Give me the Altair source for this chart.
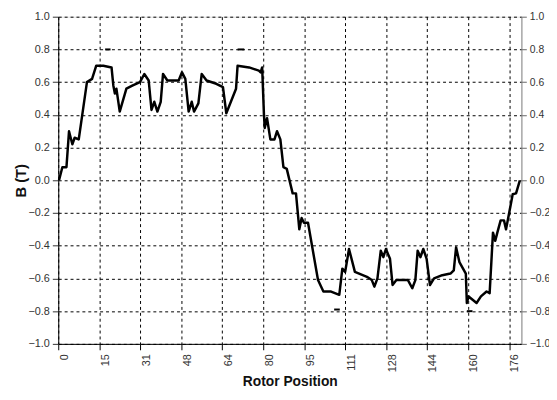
import altair as alt
import pandas as pd

# Waveform samples (x in tick-units, 16 units per labelled division)
pos = [0.3, 1.6, 3.2, 4.2, 5.5, 6.4, 8.0, 11.2, 13.2, 14.8, 17.6, 20.8, 21.5, 22.1, 22.7,
       24.0, 26.6, 29.1, 31.9, 33.6, 35.3, 36.4, 37.5, 38.7, 40.0, 40.9, 42.6, 47.0, 48.3,
       49.6, 50.9, 52.1, 53.0, 54.7, 56.0, 57.9, 61.7, 64.3, 65.6, 69.4, 70.0, 74.5, 78.3,
       79.0, 79.6, 80.3, 80.6, 81.5, 82.8, 84.4, 85.4, 86.7, 87.9, 89.2, 91.5, 92.8, 94.1,
       95.0, 95.9, 97.5, 101.4, 103.5, 106.5, 109.7, 110.9, 112.0, 113.5, 115.8, 120.5,
       122.4, 123.4, 124.6, 125.9, 126.9, 127.9, 129.5, 130.5, 132.0, 136.5, 138.2, 139.4,
       140.3, 141.4, 142.5, 143.8, 145.1, 146.7, 149.9, 153.1, 154.4, 155.3, 156.6, 159.1,
       159.5, 160.2, 163.3, 165.0, 167.2, 168.4, 169.7, 170.6, 171.4, 172.7, 174.0, 174.8,
       177.4, 178.7, 180.2]
bval = [0.00, 0.08, 0.08, 0.30, 0.22, 0.26, 0.25, 0.60, 0.62, 0.70, 0.70, 0.69, 0.58, 0.53,
        0.56, 0.42, 0.56, 0.58, 0.60, 0.65, 0.61, 0.43, 0.48, 0.42, 0.48, 0.65, 0.61, 0.61,
        0.66, 0.62, 0.42, 0.48, 0.42, 0.47, 0.65, 0.61, 0.59, 0.57, 0.41, 0.56, 0.70, 0.69,
        0.67, 0.66, 0.69, 0.40, 0.32, 0.38, 0.25, 0.25, 0.30, 0.25, 0.08, 0.07, -0.08, -0.08,
        -0.30, -0.23, -0.26, -0.26, -0.61, -0.68, -0.68, -0.70, -0.54, -0.56, -0.42, -0.56,
        -0.59, -0.61, -0.65, -0.60, -0.43, -0.47, -0.42, -0.48, -0.64, -0.61, -0.61, -0.66,
        -0.61, -0.43, -0.47, -0.42, -0.48, -0.64, -0.60, -0.58, -0.57, -0.55, -0.41, -0.50,
        -0.57, -0.75, -0.71, -0.75, -0.71, -0.68, -0.69, -0.32, -0.37, -0.32, -0.245, -0.245,
        -0.30, -0.085, -0.08, 0.0]

# Small peak markers
mark_x1 = [18.3, 70.0, 107.7, 159.5]
mark_x2 = [20.4, 72.6, 109.9, 161.7]
mark_y = [0.80, 0.80, -0.79, -0.80]

# Axis ticks
x_tick_pos = [0, 16, 32, 48, 64, 80, 96, 112, 128, 144, 160, 176]
x_tick_labels = ["0", "15", "31", "48", "64", "80", "95", "111", "128", "144", "160", "176"]
y_ticks = [-1.0, -0.8, -0.6, -0.4, -0.2, 0.0, 0.2, 0.4, 0.6, 0.8, 1.0]

df = pd.DataFrame({"x": pos, "b": bval})
dm = pd.DataFrame({"x1": mark_x1, "x2": mark_x2, "y": mark_y})

label_expr = "[" + ",".join("'" + s + "'" for s in x_tick_labels) + "][indexof([" + \
    ",".join(str(v) for v in x_tick_pos) + "], datum.value)]"

FONT = "Liberation Sans"
xscale = alt.Scale(domain=[0, 180.8], nice=False, zero=False)
yscale = alt.Scale(domain=[-1, 1], nice=False)

x_axis = alt.Axis(values=x_tick_pos, labelExpr=label_expr, labelAngle=270,
                  labelAlign="right", labelBaseline="top", labelPadding=4,
                  labelFont=FONT, labelFontSize=11, labelColor="#333333",
                  tickSize=6, tickColor="black", domainColor="black",
                  grid=True, gridColor="black", gridDash=[3, 3], gridWidth=1,
                  title="Rotor Position", titleFont=FONT, titleFontSize=14,
                  titleFontWeight="bold", titleColor="#111111",
                  titleX=235, titleY=38, titleBaseline="middle", titleAlign="center")

y_axis_left = alt.Axis(values=y_ticks, format=".1f", orient="left",
                       labelFont=FONT, labelFontSize=11, labelColor="#333333",
                       labelPadding=3, tickSize=6, tickColor="#333333",
                       domainColor="black",
                       grid=True, gridColor="black", gridDash=[3, 3], gridWidth=1,
                       title="B (T)", titleFont=FONT, titleFontSize=15,
                       titleFontWeight="bold", titleColor="#111111",
                       titleAngle=270, titleX=-38, titleY=166,
                       titleAlign="center", titleBaseline="middle")

y_axis_right = alt.Axis(values=y_ticks, format=".1f", orient="right",
                        labelFont=FONT, labelFontSize=10.5, labelColor="#333333",
                        labelPadding=3, tickSize=5, tickColor="#666666",
                        domainColor="#888888", grid=False, title=None)

line = alt.Chart(df).mark_line(color="black", strokeWidth=2.5, strokeJoin="round").encode(
    x=alt.X("x:Q", scale=xscale, axis=x_axis),
    y=alt.Y("b:Q", scale=yscale, axis=y_axis_left),
)

dashes = alt.Chart(dm).mark_rule(color="black", strokeWidth=2).encode(
    x=alt.X("x1:Q", scale=xscale),
    x2="x2:Q",
    y=alt.Y("y:Q", scale=yscale, axis=y_axis_right),
)

chart = alt.layer(line, dashes).resolve_axis(y="independent").properties(
    width=470, height=332,
    autosize=alt.AutoSizeParams(type="none"),
    padding={"left": 51, "top": 6, "right": 28, "bottom": 46},
).configure_view(stroke=None).configure(background="white")

chart.save("out.html", embed_options={"renderer": "svg", "actions": False})
